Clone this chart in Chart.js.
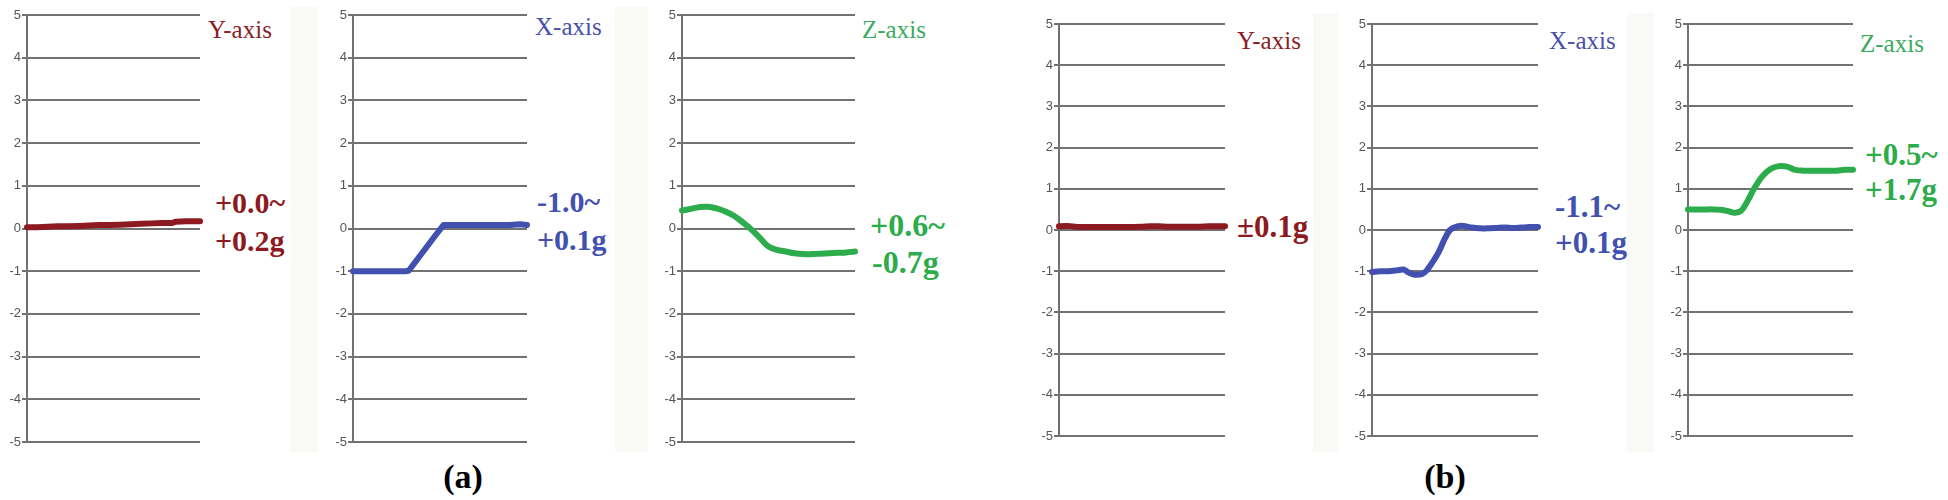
<!DOCTYPE html>
<html>
<head>
<meta charset="utf-8">
<script src="https://cdn.jsdelivr.net/npm/chart.js@4.4.1/dist/chart.umd.min.js"></script>
<style>
  body { margin: 0; background: #fff; width: 1948px; height: 500px; position: relative; overflow: hidden; }
  .strip { position: absolute; background: #f9f9f6; }
  canvas { position: absolute; }
  .lbl { position: absolute; font-family: "Liberation Serif", "DejaVu Serif", serif; line-height: 1; white-space: nowrap; }
  .bold { font-weight: bold; }
</style>
</head>
<body>
<script>
// shared sample positions (fraction of the recording window)
const tA1 = [0, 0.06, 0.12, 0.18, 0.24, 0.30, 0.36, 0.42, 0.48, 0.54, 0.60, 0.66, 0.72, 0.78, 0.84, 0.86, 0.92, 1.0];
const yA1 = [0.03, 0.03, 0.04, 0.05, 0.05, 0.06, 0.07, 0.08, 0.08, 0.09, 0.10, 0.11, 0.12, 0.13, 0.13, 0.16, 0.17, 0.17];

const tA2 = [0, 0.10, 0.20, 0.30, 0.32, 0.37, 0.42, 0.47, 0.52, 0.60, 0.70, 0.80, 0.90, 0.96, 1.0];
const yA2 = [-1.0, -1.0, -1.0, -1.0, -0.99, -0.72, -0.45, -0.18, 0.08, 0.08, 0.08, 0.08, 0.08, 0.10, 0.08];

const tA3 = [0, 0.05, 0.10, 0.15, 0.20, 0.25, 0.30, 0.35, 0.40, 0.45, 0.50, 0.55, 0.60, 0.65, 0.70, 0.75, 0.80, 0.85, 0.90, 0.95, 1.0];
const yA3 = [0.42, 0.46, 0.50, 0.51, 0.47, 0.40, 0.30, 0.15, -0.02, -0.22, -0.42, -0.50, -0.54, -0.58, -0.60, -0.60, -0.59, -0.58, -0.57, -0.56, -0.54];

const tB1 = [0, 0.05, 0.10, 0.15, 0.20, 0.25, 0.30, 0.35, 0.40, 0.45, 0.50, 0.55, 0.60, 0.65, 0.70, 0.75, 0.80, 0.85, 0.90, 0.95, 1.0];
const yB1 = [0.09, 0.10, 0.08, 0.07, 0.07, 0.07, 0.07, 0.07, 0.07, 0.07, 0.08, 0.09, 0.09, 0.08, 0.08, 0.08, 0.08, 0.08, 0.09, 0.09, 0.09];

const tB2 = [0, 0.05, 0.10, 0.15, 0.19, 0.22, 0.25, 0.30, 0.33, 0.37, 0.40, 0.44, 0.47, 0.51, 0.55, 0.60, 0.65, 0.70, 0.75, 0.80, 0.85, 0.90, 0.95, 1.0];
const yB2 = [-1.02, -1.0, -1.0, -0.98, -0.96, -1.03, -1.08, -1.07, -0.98, -0.75, -0.55, -0.20, 0.0, 0.08, 0.10, 0.06, 0.04, 0.04, 0.05, 0.06, 0.05, 0.06, 0.07, 0.07];

const tB3 = [0, 0.05, 0.10, 0.15, 0.20, 0.25, 0.28, 0.32, 0.36, 0.40, 0.45, 0.50, 0.55, 0.60, 0.65, 0.70, 0.75, 0.80, 0.85, 0.90, 0.95, 1.0];
const yB3 = [0.50, 0.50, 0.50, 0.50, 0.49, 0.45, 0.42, 0.46, 0.70, 1.00, 1.30, 1.48, 1.55, 1.54, 1.46, 1.44, 1.44, 1.44, 1.44, 1.44, 1.46, 1.46];

const yTicks = [5, 4, 3, 2, 1, 0, -1, -2, -3, -4, -5];

const RED = 'rgb(140,26,32)';
const BLUE = 'rgb(66,80,176)';
const GREEN = 'rgb(44,172,74)';
const GRID = '#727272';
const AXIS_W = 30;

// strips of the screen captures
[[290, 7, 28, 445], [615, 7, 33, 445], [1313, 13, 25, 439], [1627, 13, 27, 439]].forEach(s => {
  let d = document.createElement('div');
  d.className = 'strip';
  d.style.left = s[0] + 'px'; d.style.top = s[1] + 'px';
  d.style.width = s[2] + 'px'; d.style.height = s[3] + 'px';
  document.body.appendChild(d);
});

function panel(axisX, rightX, areaTop, areaBottom, xs, ys, color, tension) {
  let c = document.createElement('canvas');
  let w = rightX - axisX + AXIS_W + 6;
  let h = areaBottom - areaTop + 20;
  c.width = w; c.height = h;
  c.style.left = (axisX - AXIS_W) + 'px';
  c.style.top = (areaTop - 10) + 'px';
  c.style.width = w + 'px'; c.style.height = h + 'px';
  document.body.appendChild(c);
  new Chart(c, {
    type: 'line',
    data: {
      datasets: [{
        data: xs.map((x, i) => ({x: x, y: ys[i]})),
        borderColor: color,
        borderWidth: 6,
        pointRadius: 0,
        tension: tension,
        borderCapStyle: 'round',
        borderJoinStyle: 'round',
        clip: false
      }]
    },
    options: {
      responsive: false,
      animation: false,
      devicePixelRatio: 1,
      layout: { autoPadding: false, padding: { top: 10, bottom: 10, left: 0, right: 6 } },
      plugins: { legend: { display: false }, tooltip: { enabled: false } },
      scales: {
        x: { type: 'linear', min: 0, max: 1, display: false },
        y: {
          min: -5, max: 5,
          afterFit: (s) => { s.width = AXIS_W; },
          afterBuildTicks: (s) => { s.ticks = yTicks.map(v => ({value: v})); },
          grid: { color: GRID, lineWidth: 2, tickLength: 5, tickColor: GRID },
          border: { color: GRID, width: 2 },
          ticks: { color: '#555', padding: 1, font: { family: 'Liberation Sans', size: 13 } }
        }
      }
    }
  });
}

panel(27, 200, 15, 442, tA1, yA1, RED, 0);
panel(353, 527, 15, 442, tA2, yA2, BLUE, 0);
panel(682, 855, 15, 442, tA3, yA3, GREEN, 0.4);
panel(1059, 1225, 24, 436, tB1, yB1, RED, 0);
panel(1372, 1538, 24, 436, tB2, yB2, BLUE, 0.3);
panel(1688, 1853, 24, 436, tB3, yB3, GREEN, 0.4);

// text: [text, left, baseline, size, color, bold, centered]
const labels = [
  ['Y-axis', 208, 38, 25, 'rgb(139,30,38)', false],
  ['+0.0~', 215, 213, 30, RED, true],
  ['+0.2g', 215, 251, 30, RED, true],
  ['X-axis', 535, 35, 25, 'rgb(72,82,170)', false],
  ['-1.0~', 537, 212, 30, BLUE, true],
  ['+0.1g', 537, 250, 30, BLUE, true],
  ['Z-axis', 862, 38, 25, 'rgb(60,170,95)', false],
  ['+0.6~', 870, 236, 32, GREEN, true],
  ['-0.7g', 872, 273, 32, GREEN, true],
  ['Y-axis', 1237, 49, 25, 'rgb(139,30,38)', false],
  ['±0.1g', 1237, 237, 31, RED, true],
  ['X-axis', 1549, 49, 25, 'rgb(72,82,170)', false],
  ['-1.1~', 1555, 217, 31, BLUE, true],
  ['+0.1g', 1555, 253, 31, BLUE, true],
  ['Z-axis', 1860, 52, 25, 'rgb(60,170,95)', false],
  ['+0.5~', 1865, 165, 31, GREEN, true],
  ['+1.7g', 1865, 200, 31, GREEN, true],
  ['(a)', 463, 488, 34, '#000', true, true],
  ['(b)', 1445, 488, 34, '#000', true, true]
];
labels.forEach(l => {
  let d = document.createElement('div');
  d.className = 'lbl' + (l[5] ? ' bold' : '');
  d.textContent = l[0];
  d.style.fontSize = l[3] + 'px';
  d.style.color = l[4];
  d.style.top = (l[2] - 0.8375 * l[3]) + 'px';
  if (l[6]) { d.style.left = l[1] + 'px'; d.style.transform = 'translateX(-50%)'; }
  else d.style.left = l[1] + 'px';
  document.body.appendChild(d);
});
</script>
</body>
</html>
